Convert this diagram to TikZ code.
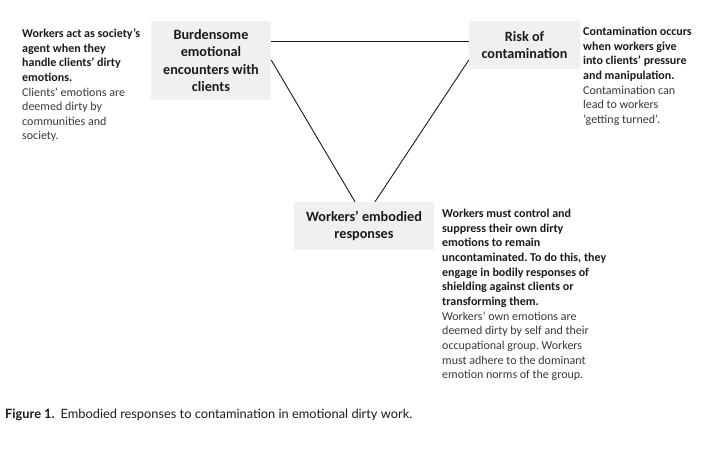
\documentclass[tikz,border=0pt]{standalone}
\usepackage{fontspec}
\setmainfont{Carlito}
\newfontfamily\capfont{Lato}
\frenchspacing
\definecolor{boxfill}{HTML}{F0F0F0}
\definecolor{ink}{HTML}{1A1A1A}
\definecolor{soft}{HTML}{383838}
\begin{document}
\begin{tikzpicture}[x=1pt,y=-1pt,
  concept/.style={draw=none,fill=boxfill,align=center,inner sep=0pt,
    font=\fontsize{14.2}{17.5}\selectfont\bfseries,text=ink},
  note/.style={align=left,inner sep=0pt,anchor=north west,
    font=\fontsize{12}{14.65}\selectfont,text=ink},
  link/.style={draw=ink,line width=0.9pt}]
\useasboundingbox (0,0) rectangle (706,448);
\node[concept,minimum width=120pt,minimum height=79pt] (b1) at (211,60.5)
  {Burdensome\\emotional\\encounters with\\clients};
\node[concept,minimum width=111pt,minimum height=48pt] (b2) at (524.5,45)
  {Risk of\\contamination};
\node[concept,minimum width=140pt,minimum height=48pt] (b3) at (364,226)
  {Workers’ embodied\\responses};
\draw[link] (b1.east |- 0,41) -- (b2.west |- 0,41);
\draw[link] (b1.east |- 0,60) -- (b3.north -| 355,0);
\draw[link] (b2.west |- 0,60) -- (b3.north -| 375,0);
\node[note] (t1) at (22,28.5)
  {\textbf{Workers act as society’s}\\\textbf{agent when they}\\\textbf{handle clients’ dirty}\\\textbf{emotions.}\\
   \textcolor{soft}{Clients’ emotions are}\\\textcolor{soft}{deemed dirty by}\\\textcolor{soft}{communities and}\\\textcolor{soft}{society.}};
\node[note] (t2) at (583,27)
  {\textbf{Contamination occurs}\\\textbf{when workers give}\\\textbf{into clients’ pressure}\\\textbf{and manipulation.}\\
   \textcolor{soft}{Contamination can}\\\textcolor{soft}{lead to workers}\\\textcolor{soft}{‘getting turned’.}};
\node[note] (t3) at (442,209)
  {\textbf{Workers must control and}\\\textbf{suppress their own dirty}\\\textbf{emotions to remain}\\\textbf{uncontaminated. To do this, they}\\\textbf{engage in bodily responses of}\\\textbf{shielding against clients or}\\\textbf{transforming them.}\\
   \textcolor{soft}{Workers’ own emotions are}\\\textcolor{soft}{deemed dirty by self and their}\\\textcolor{soft}{occupational group. Workers}\\\textcolor{soft}{must adhere to the dominant}\\\textcolor{soft}{emotion norms of the group.}};
\node[anchor=west,inner sep=0pt,font=\capfont\fontsize{12.8}{16}\selectfont,text=ink] (cap) at (5,415)
  {\textbf{Figure 1.}\hspace{6pt}Embodied responses to contamination in emotional dirty work.};
\end{tikzpicture}
\end{document}
